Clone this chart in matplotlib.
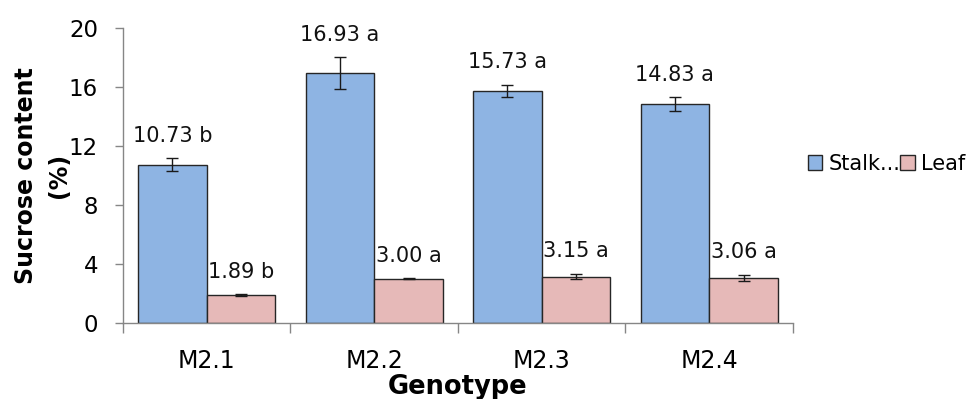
import matplotlib
matplotlib.use("agg")
import matplotlib.pyplot as plt
import numpy as np
from matplotlib.ticker import FixedLocator

genotypes = ["M2.1", "M2.2", "M2.3", "M2.4"]
stalk = [10.73, 16.93, 15.73, 14.83]
stalk_err = [0.45, 1.08, 0.42, 0.48]
stalk_grp = ["b", "a", "a", "a"]
leaf = [1.89, 3.00, 3.15, 3.06]
leaf_err = [0.05, 0.02, 0.20, 0.20]
leaf_grp = ["b", "a", "a", "a"]

plt.rcParams["font.family"] = ["DejaVu Sans"]

fig = plt.figure(figsize=(9.73, 3.99), dpi=100)
ax = fig.add_axes([0.1264, 0.1905, 0.6886, 0.7393])

x = np.arange(len(genotypes))
w = 0.41
axis_gray = "#868686"
edge = "#262626"

ax.bar(x - w / 2, stalk, w, color="#8EB4E3", edgecolor=edge, linewidth=1.0,
       label="Stalk...", zorder=2)
ax.bar(x + w / 2, leaf, w, color="#E6B9B8", edgecolor=edge, linewidth=1.0,
       label="Leaf", zorder=2)
ax.errorbar(x - w / 2, stalk, yerr=stalk_err, fmt="none", ecolor="#1a1a1a",
            elinewidth=1.0, capsize=4.5, capthick=1.0, zorder=3)
ax.errorbar(x + w / 2, leaf, yerr=leaf_err, fmt="none", ecolor="#1a1a1a",
            elinewidth=1.0, capsize=4.5, capthick=1.0, zorder=3)

# value + significance letter above each bar
for xi, v, e, g in zip(x - w / 2, stalk, stalk_err, stalk_grp):
    ax.annotate(f"{v:.2f} {g}", (xi, v + e), xytext=(0, 9),
                textcoords="offset points", ha="center", va="bottom",
                fontsize=15, color="#111111")
for xi, v, e, g in zip(x + w / 2, leaf, leaf_err, leaf_grp):
    ax.annotate(f"{v:.2f} {g}", (xi, v + e), xytext=(0, 9),
                textcoords="offset points", ha="center", va="bottom",
                fontsize=15, color="#111111")

ax.set_xlim(-0.5, len(genotypes) - 0.5)
ax.set_ylim(0, 20)
ax.set_yticks([0, 4, 8, 12, 16, 20])

ax.set_xticks(x)
ax.set_xticklabels(genotypes, fontsize=17)
ax.xaxis.set_minor_locator(FixedLocator(np.arange(-0.5, len(genotypes), 1.0)))
ax.tick_params(axis="x", which="major", length=0, pad=19)
ax.tick_params(axis="x", which="minor", length=7, color=axis_gray, width=1)
ax.tick_params(axis="y", length=6, color=axis_gray, width=1, pad=12,
               labelsize=16.5)

for s in ["top", "right"]:
    ax.spines[s].set_visible(False)
for s in ["left", "bottom"]:
    ax.spines[s].set_color(axis_gray)
    ax.spines[s].set_linewidth(1)

ax.set_ylabel("Sucrose content\n(%)", fontsize=17, fontweight="bold",
              linespacing=1.45)
ax.yaxis.set_label_coords(-0.078, 0.5)
ax.set_xlabel("Genotype", fontsize=18.5, fontweight="bold")
ax.xaxis.set_label_coords(0.5, -0.241)
ax.xaxis.label.set_va("baseline")

ax.legend(loc="center left", bbox_to_anchor=(1.0, 0.54), ncol=2,
          frameon=False, fontsize=15, handlelength=0.7, handleheight=0.7,
          handletextpad=0.3, columnspacing=0.0, borderaxespad=0.3)

fig.savefig("out.png", dpi=100)
plt.close(fig)
